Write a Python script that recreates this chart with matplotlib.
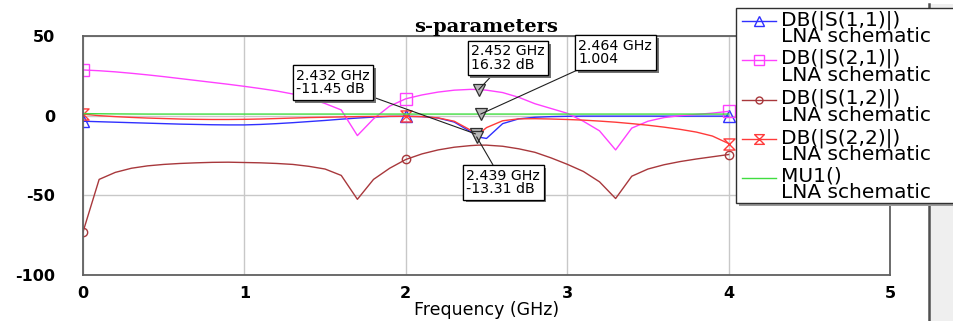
import matplotlib
matplotlib.use("Agg")
import matplotlib.pyplot as plt
from matplotlib.lines import Line2D
from matplotlib.patches import Rectangle
from matplotlib.path import Path
import matplotlib.patheffects as pe

# ---------------- data ----------------
freq = [0.0, 0.1, 0.2, 0.3, 0.4, 0.5, 0.6, 0.7, 0.8, 0.9,
        1.0, 1.1, 1.2, 1.3, 1.4, 1.5, 1.6, 1.7, 1.8, 1.9,
        2.0, 2.1, 2.2, 2.3, 2.4, 2.45, 2.5, 2.6, 2.7, 2.8,
        2.9, 3.0, 3.1, 3.2, 3.3, 3.4, 3.5, 3.6, 3.7, 3.8, 3.9, 4.0]

s11 = [-3.5, -3.8, -4.1, -4.4, -4.7, -5.0, -5.3, -5.5, -5.7, -5.8,
       -5.8, -5.5, -5.0, -4.4, -3.7, -3.0, -2.2, -1.5, -0.9, -0.5,
       -0.4, -0.6, -1.5, -4.0, -10.0, -13.4, -14.3, -5.0, -2.0, -1.0,
       -0.6, -0.4, -0.3, -0.3, -0.3, -0.3, -0.3, -0.3, -0.3, -0.3, -0.3, -0.3]

s21 = [28.7, 28.2, 27.5, 26.6, 25.6, 24.5, 23.3, 22.1, 20.9, 19.7,
       18.4, 17.0, 15.5, 13.6, 11.0, 7.6, 3.6, -12.5, -2.0, 6.0,
       10.6, 13.0, 14.8, 16.0, 16.5, 16.4, 16.0, 14.5, 11.5, 7.5,
       4.5, 1.5, -3.5, -9.5, -21.5, -7.8, -3.5, -1.2, 0.0, 0.8, 1.6, 2.7]

s12 = [-73.0, -40.0, -35.6, -33.0, -31.5, -30.6, -30.0, -29.6, -29.3, -29.2,
       -29.4, -29.6, -30.0, -30.6, -31.8, -33.5, -37.5, -52.5, -40.0, -33.0,
       -27.5, -24.0, -21.5, -19.8, -18.8, -18.5, -18.5, -19.2, -20.8, -23.0,
       -26.5, -30.5, -35.0, -41.5, -52.0, -38.0, -33.5, -30.8, -28.8, -27.2, -25.8, -24.4]

s22 = [1.0, 0.0, -0.6, -1.1, -1.5, -1.8, -2.1, -2.3, -2.4, -2.4,
       -2.3, -2.1, -1.8, -1.5, -1.2, -1.0, -0.8, -0.6, -0.5, -0.4,
       -0.4, -0.6, -1.4, -3.5, -9.0, -11.8, -7.5, -3.2, -2.0, -1.9,
       -2.1, -2.4, -2.8, -3.4, -4.1, -5.0, -6.0, -7.2, -8.6, -10.3, -12.8, -17.5]

mu1 = [1.3, 1.2, 1.1, 1.05, 1.0, 1.0, 1.0, 1.0, 1.0, 1.0,
       1.0, 1.0, 1.0, 1.0, 1.0, 1.0, 1.0, 1.0, 1.0, 1.0,
       1.0, 1.0, 1.0, 1.0, 1.0, 1.004, 1.0, 1.0, 1.0, 1.0,
       1.0, 1.0, 1.0, 1.0, 1.0, 1.0, 1.0, 1.0, 1.0, 1.0, 1.0, 1.0]

marker_freqs = [0.0, 2.0, 4.0]

series_names = ["DB(|S(1,1)|)", "DB(|S(2,1)|)", "DB(|S(1,2)|)", "DB(|S(2,2)|)", "MU1()"]
series_sub = "LNA schematic"

# marker readouts (freq, value, label)
mk_freq = [2.432, 2.439, 2.452, 2.464]
mk_val = [-11.45, -13.31, 16.32, 1.004]
mk_text = ["2.432 GHz\n-11.45 dB", "2.439 GHz\n-13.31 dB", "2.452 GHz\n16.32 dB", "2.464 GHz\n1.004"]
mk_text_pos = [(1.32, 29.3), (2.375, -33.3), (2.405, 44.7), (3.07, 48.1)]

xticks = [0, 1, 2, 3, 4, 5]
yticks = [-100, -50, 0, 50]

# ---------------- style ----------------
W, H = 954, 321
fig = plt.figure(figsize=(W / 100, H / 100), dpi=100)
fig.patch.set_facecolor("white")


def fx(px):
    return px / W


def fy(py):
    return 1 - py / H


ax = fig.add_axes([fx(83), fy(275), fx(890) - fx(83), fy(36) - fy(275)])

hourglass = Path([(-1, 1), (1, 1), (-1, -1), (1, -1), (-1, 1)],
                 [Path.MOVETO, Path.LINETO, Path.LINETO, Path.LINETO, Path.CLOSEPOLY])

styles = [
    dict(color="#3030ff", marker="^", ms=8),
    dict(color="#ff40ff", marker="s", ms=8),
    dict(color="#a8383c", marker="o", ms=6),
    dict(color="#ff3a3a", marker=hourglass, ms=8),
    dict(color="#40dd40", marker=None, ms=0),
]
data = [s11, s21, s12, s22, mu1]
mev = [freq.index(v) for v in marker_freqs]

for vals, st in zip(data, styles):
    ax.plot(freq, vals, color=st["color"], lw=1.0,
            marker=st["marker"], markevery=mev if st["marker"] is not None else None,
            ms=st["ms"], mfc="none", mec=st["color"], mew=1.0)

ax.plot(mk_freq, mk_val, ls="none", marker="v", ms=8, mfc="#b8b8b8",
        mec="#303030", mew=0.9, zorder=6)

for (tx, ty), f, v, t in zip(mk_text_pos, mk_freq, mk_val, mk_text):
    ann = ax.annotate(t, xy=(f, v), xytext=(tx, ty), textcoords="data",
                      ha="left", va="top", fontsize=10.2, family="DejaVu Sans",
                      linespacing=0.95, zorder=7,
                      bbox=dict(boxstyle="square,pad=0.25", fc="white", ec="black", lw=0.9),
                      arrowprops=dict(arrowstyle="-", color="#202020", lw=0.8,
                                      shrinkA=0, shrinkB=0))
    ann.get_bbox_patch().set_path_effects(
        [pe.withSimplePatchShadow(offset=(2, -2), shadow_rgbFace="0.45", alpha=1.0),
         pe.Normal()])

ax.set_xlim(0, 5)
ax.set_ylim(-100, 50)
ax.set_xticks(xticks)
ax.set_yticks(yticks)
ax.set_xticklabels([str(v) for v in xticks], fontweight="bold", fontsize=11.5)
ax.set_yticklabels([str(v) for v in yticks], fontweight="bold", fontsize=11.5)
ax.tick_params(axis="both", length=0)
ax.tick_params(axis="x", pad=8)
ax.tick_params(axis="y", pad=20)
ax.grid(True, color="#c8c8c8", lw=1.0)
ax.set_axisbelow(True)
for sp in ax.spines.values():
    sp.set_color("#606060")
    sp.set_linewidth(1.3)

ax.set_xlabel("Frequency (GHz)", fontsize=12.5, labelpad=0)
ax.set_title("s-parameters", family="DejaVu Serif", fontweight="bold",
             fontsize=14, pad=2)

# ---------------- right gray panel ----------------
fig.add_artist(Rectangle((fx(929), fy(321)), fx(954) - fx(929), fy(4) - fy(321),
                         transform=fig.transFigure, fc="#efefef", ec="none", zorder=3))
fig.add_artist(Line2D([fx(929.5), fx(929.5)], [fy(4), fy(321)],
                      transform=fig.transFigure, color="#505050", lw=1.8, zorder=3.1))

# ---------------- legend (manual) ----------------
fig.add_artist(Rectangle((fx(739), fy(206)), fx(1010) - fx(739), fy(11) - fy(206),
                         transform=fig.transFigure, fc="#9a9a9a", ec="none", zorder=4))
fig.add_artist(Rectangle((fx(736), fy(203)), fx(1010) - fx(736), fy(8) - fy(203),
                         transform=fig.transFigure, fc="white", ec="#303030", lw=1.0, zorder=4.5))

entry_y = [21, 60, 100, 139, 178]
for name, st, yy in zip(series_names, styles, entry_y):
    fig.add_artist(Line2D([fx(742), fx(776)], [fy(yy), fy(yy)], transform=fig.transFigure,
                          color=st["color"], lw=1.0, zorder=5))
    if st["marker"] is not None:
        fig.add_artist(Line2D([fx(759)], [fy(yy)], transform=fig.transFigure,
                              color=st["color"], marker=st["marker"], ms=st["ms"] - 1,
                              mfc="none", mec=st["color"], mew=1.0, ls="none", zorder=5))
    fig.text(fx(781), fy(yy - 11), name + "\n" + series_sub, ha="left", va="top",
             fontsize=14.5, family="DejaVu Sans", linespacing=0.82, zorder=5,
             transform=fig.transFigure)

fig.savefig("out.png", dpi=100, facecolor="white")
